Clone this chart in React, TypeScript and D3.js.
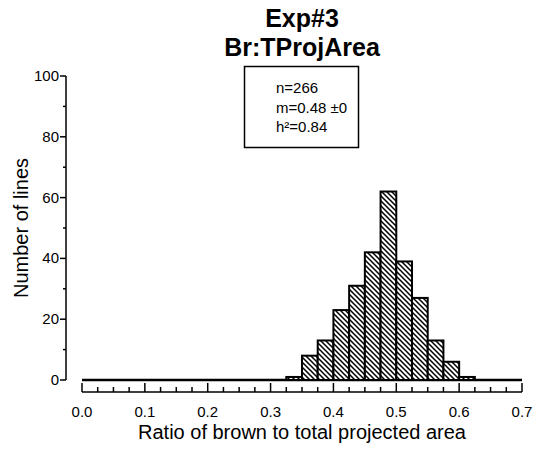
import React from "react";
import * as d3 from "d3";

const binWidth = 0.025;
const binStarts = d3.range(0, 28).map((i) => +(i * 0.025).toFixed(3));
const counts = [0, 0, 0, 0, 0, 0, 0, 0, 0, 0, 0, 0, 0, 1, 8, 13, 23, 31, 42, 62, 39, 27, 13, 6, 1, 0, 0, 0];
const xTicks = [0, 0.1, 0.2, 0.3, 0.4, 0.5, 0.6, 0.7];
const yTicks = [0, 20, 40, 60, 80, 100];
const titleLines = ["Exp#3", "Br:TProjArea"];
const statLines = ["n=266", "m=0.48 \u00b10", "h\u00b2=0.84"];
const xTitle = "Ratio of brown to total projected area";
const yTitle = "Number of lines";

const W = 536;
const H = 452;
const font = "'Liberation Sans', Arial, Helvetica, sans-serif";

export default function App() {
  const x = d3.scaleLinear().domain([0, 0.7]).range([82, 522]);
  const y = d3.scaleLinear().domain([0, 100]).range([380, 76]);
  const xMinor = d3.range(0, 29).map((i) => i * 0.025);
  const yMinor = d3.range(0, 11).map((i) => i * 10);
  const xAxisY = 392;
  const yAxisX = 66;

  return (
    <svg width={W} height={H} style={{ position: "absolute", left: 0, top: 0, background: "#fff" }}>
      <defs>
        <pattern id="hatch" patternUnits="userSpaceOnUse" width={5} height={5}>
          <rect width={5} height={5} fill="#fff" />
          <path d="M0,0 L5,5 M-1,4 L1,6 M4,-1 L6,1" stroke="#000" strokeWidth={1.5} />
        </pattern>
      </defs>
      {/* title */}
      {titleLines.map((t, i) => (
        <text key={t} x={302} y={27 + i * 29} textAnchor="middle" fontFamily={font} fontWeight="bold" fontSize={25}>
          {t}
        </text>
      ))}
      {/* zero baseline across all bins */}
      <line x1={x(0)} x2={x(0.7)} y1={y(0)} y2={y(0)} stroke="#000" strokeWidth={2.5} />
      {/* bars */}
      {binStarts.map((b, i) =>
        counts[i] > 0 ? (
          <rect
            key={i}
            x={x(b)}
            y={y(counts[i])}
            width={x(b + binWidth) - x(b)}
            height={y(0) - y(counts[i])}
            fill="url(#hatch)"
            stroke="#000"
            strokeWidth={2}
          />
        ) : null
      )}
      {/* y axis */}
      <line x1={yAxisX} x2={yAxisX} y1={y(100)} y2={y(0)} stroke="#000" strokeWidth={1.5} />
      {yMinor.map((v) => (
        <line key={v} x1={yAxisX} x2={yAxisX - (v % 20 === 0 ? 6 : 3)} y1={y(v)} y2={y(v)} stroke="#000" strokeWidth={1.5} />
      ))}
      {yTicks.map((v) => (
        <text key={v} x={yAxisX - 7} y={y(v) + 5} textAnchor="end" fontFamily={font} fontSize={15}>
          {v}
        </text>
      ))}
      <text
        transform={`translate(28,${(y(0) + y(100)) / 2}) rotate(-90)`}
        textAnchor="middle"
        fontFamily={font}
        fontSize={20}
      >
        {yTitle}
      </text>
      {/* x axis */}
      <line x1={x(0)} x2={x(0.7)} y1={xAxisY} y2={xAxisY} stroke="#000" strokeWidth={1.5} />
      {xMinor.map((v, i) => (
        <line key={i} x1={x(v)} x2={x(v)} y1={xAxisY} y2={xAxisY - (i % 4 === 0 ? 9 : 5)} stroke="#000" strokeWidth={1.5} />
      ))}
      {xTicks.map((v) => (
        <text key={v} x={x(v)} y={417} textAnchor="middle" fontFamily={font} fontSize={15}>
          {v.toFixed(1)}
        </text>
      ))}
      <text x={(x(0) + x(0.7)) / 2} y={439} textAnchor="middle" fontFamily={font} fontSize={20}>
        {xTitle}
      </text>
      {/* stats box */}
      <rect x={244.5} y={66.5} width={114} height={81} fill="#fff" stroke="#000" strokeWidth={1.5} />
      {statLines.map((t, i) => (
        <text key={t} x={276} y={93 + i * 19.5} fontFamily={font} fontSize={15}>
          {t}
        </text>
      ))}
    </svg>
  );
}
